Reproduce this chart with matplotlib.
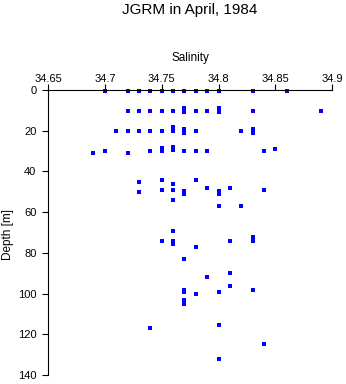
import matplotlib
matplotlib.use('Agg')
import matplotlib.pyplot as plt

# JGRM, April 1984: salinity / depth samples
salinity = [
    34.70, 34.72, 34.73, 34.74, 34.75, 34.76, 34.77, 34.78, 34.79, 34.80, 34.83, 34.86,
    34.72, 34.73, 34.74, 34.75, 34.76, 34.77, 34.77, 34.78, 34.79, 34.80, 34.80, 34.83, 34.89,
    34.71, 34.72, 34.73, 34.74, 34.75, 34.76, 34.76, 34.77, 34.77, 34.78, 34.82, 34.83, 34.83,
    34.69, 34.70, 34.72, 34.74, 34.75, 34.75, 34.76, 34.76, 34.77, 34.78, 34.79, 34.84, 34.85,
    34.73, 34.73, 34.75, 34.75, 34.76, 34.76, 34.76, 34.77, 34.77, 34.78, 34.79, 34.80, 34.80,
    34.81, 34.84, 34.80, 34.82,
    34.76, 34.76, 34.76, 34.75, 34.78, 34.81, 34.83, 34.83,
    34.77, 34.79, 34.81, 34.81, 34.77, 34.77, 34.78, 34.80, 34.83, 34.77, 34.77,
    34.74, 34.80, 34.84, 34.80,
]
depth = [
    0.3, 0.3, 0.3, 0.3, 0.3, 0.3, 0.3, 0.3, 0.3, 0.3, 0.3, 0.3,
    10.3, 10.3, 10.3, 10.3, 10.3, 9.0, 11.0, 10.3, 10.3, 9.0, 11.0, 10.5, 10.5,
    20.3, 20.3, 20.3, 20.3, 20.3, 18.0, 20.0, 19.0, 21.0, 20.3, 20.3, 19.0, 21.0,
    31.1, 30.1, 31.1, 30.1, 28.3, 30.0, 28.2, 29.3, 30.1, 30.1, 30.1, 30.1, 29.0,
    45.4, 50.3, 44.2, 49.3, 46.4, 49.3, 54.2, 49.5, 51.0, 44.3, 48.3, 49.5, 51.0,
    48.3, 49.3, 57.2, 57.2,
    69.3, 74.4, 75.5, 74.4, 77.3, 74.4, 72.2, 74.4,
    83.2, 92.0, 90.1, 96.2, 98.0, 99.3, 100.1, 99.1, 98.1, 103.2, 105.2,
    117.1, 115.2, 125.0, 132.0,
]

x_ticks = [34.65, 34.70, 34.75, 34.80, 34.85, 34.90]
x_tick_labels = ['34.65', '34.7', '34.75', '34.8', '34.85', '34.9']
y_ticks = [0, 20, 40, 60, 80, 100, 120, 140]

plt.rcParams['font.family'] = ['Liberation Sans', 'DejaVu Sans']

fig = plt.figure(figsize=(3.46, 3.84), dpi=100, facecolor='white')
ax = fig.add_axes([48 / 346, 1 - 375 / 384, (332.3 - 48) / 346, (375 - 90) / 384])

ax.plot(salinity, depth, 's', color='#0000ff', ms=2.3, mew=0, clip_on=False)

ax.set_xlim(34.65, 34.90)
ax.set_ylim(140, 0)

ax.xaxis.tick_top()
ax.xaxis.set_label_position('top')
ax.set_xticks(x_ticks)
ax.set_xticklabels(x_tick_labels)
ax.set_yticks(y_ticks)
ax.tick_params(axis='x', direction='out', length=4, width=0.8, pad=0.5, labelsize=8)
ax.tick_params(axis='y', direction='out', length=4.3, width=0.8, pad=4, labelsize=8)

for side in ('right', 'bottom'):
    ax.spines[side].set_visible(False)
for side in ('left', 'top'):
    ax.spines[side].set_linewidth(0.8)

ax.set_xlabel('Salinity', fontsize=8.5, labelpad=9)
fig.text(8 / 346, 1 - 234 / 384, 'Depth [m]', rotation=90,
         ha='center', va='center', fontsize=8.5)
fig.text(190 / 346, 1 - 10 / 384, 'JGRM in April, 1984',
         ha='center', va='center', fontsize=11)

fig.savefig('out.png', dpi=100, facecolor=fig.get_facecolor())
